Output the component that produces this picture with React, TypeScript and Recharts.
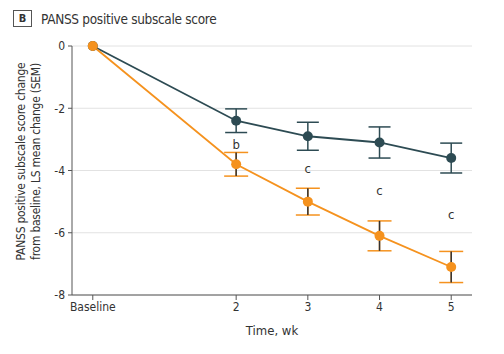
import { ComposedChart, Line, XAxis, YAxis, CartesianGrid, ErrorBar, Label } from "recharts";

const weeks = [0, 2, 3, 4, 5];
const placeboMean = [0, -2.4, -2.9, -3.1, -3.6];
const placeboSem = [0, 0.38, 0.45, 0.5, 0.48];
const drugMean = [0, -3.8, -5.0, -6.1, -7.1];
const drugSem = [0, 0.38, 0.43, 0.48, 0.5];
const sigLetters = ["", "b", "c", "c", "c"];
const sigPos = [null, -3.15, -3.95, -4.65, -5.4];
const xTicks = [0, 2, 3, 4, 5];
const yTicks = [0, -2, -4, -6, -8];

const FONT = '"Liberation Sans Narrow", "DejaVu Sans Condensed", "Liberation Sans", sans-serif';
const DARK = "#2d4b53";
const ORANGE = "#f5921e";
const TEXT = "#333";

const data = weeks.map((w, i) => ({
  week: w,
  placebo: placeboMean[i],
  placeboErr: placeboSem[i],
  drug: drugMean[i],
  drugErr: drugSem[i],
  sig: sigPos[i],
}));

const sigLabel = (props: any) => {
  const { x, y, index } = props;
  const letter = sigLetters[index];
  if (!letter || y == null) return null;
  return (
    <text x={x} y={y} textAnchor="middle" dominantBaseline="central" fontSize={13} fill={TEXT} fontFamily={FONT}>
      {letter}
    </text>
  );
};

// two-line rotated y label
const yLabel = (props: any) => {
  const vb = props.viewBox || {};
  const cx = 28;
  const cy = (vb.y ?? 46) + (vb.height ?? 249) / 2 - 9;
  return (
    <text
      transform={`rotate(-90 ${cx} ${cy})`}
      x={cx}
      y={cy}
      textAnchor="middle"
      fontSize={12}
      letterSpacing={-0.25}
      fill={TEXT}
      fontFamily={FONT}
    >
      <tspan x={cx} dy={-3}>PANSS positive subscale score change</tspan>
      <tspan x={cx} dy={15}>from baseline, LS mean change (SEM)</tspan>
    </text>
  );
};

export default function App() {
  return (
    <div style={{ position: "absolute", left: 0, top: 0, width: 504, height: 354, background: "#fff", fontFamily: FONT }}>
      <div style={{ position: "absolute", left: 13, top: 10, display: "flex", alignItems: "center", color: TEXT }}>
        <span
          style={{
            border: "1px solid #555",
            width: 17,
            height: 15,
            display: "inline-flex",
            alignItems: "center",
            justifyContent: "center",
            fontSize: 11,
            fontWeight: 700,
          }}
        >
          B
        </span>
        <span style={{ marginLeft: 9, fontSize: 13.5, letterSpacing: -0.3 }}>PANSS positive subscale score</span>
      </div>
      <ComposedChart width={504} height={354} data={data} margin={{ top: 46, right: 32, left: 0, bottom: 19 }}>
        <CartesianGrid vertical={false} stroke="#e2e2e2" />
        <XAxis
          dataKey="week"
          type="number"
          domain={[-0.29, 5.29]}
          ticks={xTicks}
          tickFormatter={(v: number) => (v === 0 ? "Baseline" : String(v))}
          height={40}
          tickSize={5}
          tickMargin={2}
          stroke="#555"
          tick={{ fill: TEXT, fontSize: 12, fontFamily: FONT }}
        >
          <Label value="Time, wk" position="insideBottom" offset={0} style={{ fill: TEXT, fontSize: 13, fontFamily: FONT }} />
        </XAxis>
        <YAxis
          type="number"
          domain={[-8, 0]}
          ticks={yTicks}
          width={72}
          tickSize={4}
          tickMargin={3}
          stroke="#555"
          tick={{ fill: TEXT, fontSize: 12, fontFamily: FONT }}
          label={yLabel}
        />
        <Line
          dataKey="placebo"
          stroke={DARK}
          strokeWidth={1.8}
          dot={{ r: 5, fill: DARK, stroke: DARK, strokeWidth: 0 }}
          activeDot={false}
          isAnimationActive={false}
        >
          <ErrorBar dataKey="placeboErr" direction="y" width={11} stroke={DARK} strokeWidth={1.5} />
        </Line>
        <Line
          dataKey="drug"
          stroke={ORANGE}
          strokeWidth={1.8}
          dot={{ r: 5, fill: ORANGE, stroke: ORANGE, strokeWidth: 0 }}
          activeDot={false}
          isAnimationActive={false}
        >
          <ErrorBar dataKey="drugErr" direction="y" width={12} stroke={ORANGE} strokeWidth={1.5} />
          <ErrorBar dataKey="drugErr" direction="y" width={0} stroke="#333" strokeWidth={1.5} />
        </Line>
        <Line
          dataKey="sig"
          stroke="none"
          dot={false}
          activeDot={false}
          isAnimationActive={false}
          label={sigLabel}
        />
      </ComposedChart>
    </div>
  );
}
